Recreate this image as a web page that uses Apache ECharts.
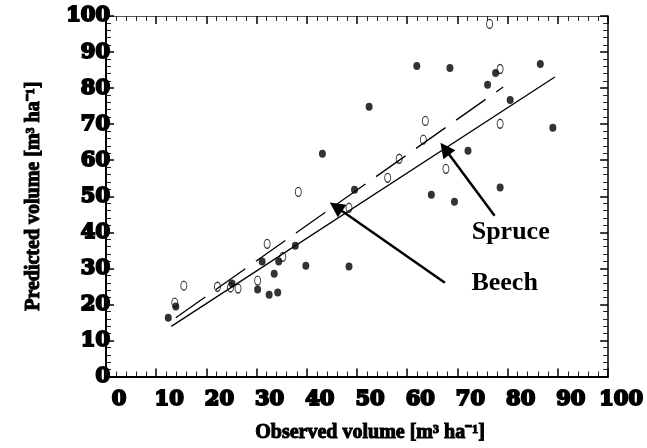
<!DOCTYPE html>
<html>
<head>
<meta charset="utf-8">
<script src="https://cdn.jsdelivr.net/npm/echarts@6/dist/echarts.min.js"></script>
<style>
  html, body { margin: 0; padding: 0; background: #fff; }
  #chart { width: 647px; height: 448px; }
</style>
</head>
<body>
<div id="chart"></div>
<script>
// Spruce plots (filled dots) and their regression line (solid)
const spruceX = [12.4, 13.9, 25.1, 30.2, 32.5, 34.2, 33.5, 31.1, 34.4, 39.8, 48.4, 37.7, 43.1, 49.5, 52.4, 61.9, 68.5, 77.6, 76.0, 80.5, 86.5, 89.0, 72.1, 64.8, 69.4, 78.5];
const spruceY = [16.3, 19.4, 25.8, 24.1, 22.7, 23.3, 28.5, 31.9, 31.9, 30.7, 30.5, 36.3, 61.8, 51.8, 74.8, 86.1, 85.6, 84.2, 80.9, 76.7, 86.7, 69.0, 62.6, 50.4, 48.5, 52.4];
const spruceFitX = [13.0, 89.4];
const spruceFitY = [13.9, 83.1];

// Beech plots (open circles) and their regression line (dashed)
const beechX = [13.7, 15.5, 22.2, 24.8, 26.3, 30.2, 35.2, 32.1, 38.3, 48.4, 56.1, 58.4, 63.2, 63.6, 67.7, 78.5, 78.5, 76.4];
const beechY = [20.5, 25.2, 24.9, 24.7, 24.4, 26.6, 33.2, 36.8, 51.2, 46.8, 55.1, 60.4, 65.7, 70.9, 57.6, 70.1, 85.3, 97.8];
const beechFitX = [13.9, 79.1];
const beechFitY = [16.3, 80.3];

// Annotation arrows: [tail, tip] in data units, and their captions
const spruceArrow = [[77.4, 44.6], [67.5, 63.2]];
const beechArrow = [[67.5, 26.0], [45.8, 47.1]];
const spruceCaption = { text: 'Spruce', at: [80.6, 39.9] };
const beechCaption = { text: 'Beech', at: [79.4, 25.8] };

// Axis range and tick step
const axisMin = 0;
const axisMax = 100;
const axisStep = 10;

const zip = (xs, ys) => xs.map((x, i) => [x, ys[i]]);

const tickFont = {
  fontFamily: 'DejaVu Serif',
  fontWeight: 'bold',
  fontSize: 21,
  color: '#000',
  textBorderColor: '#000',
  textBorderWidth: 2
};
const titleFont = {
  fontFamily: 'Liberation Serif',
  fontWeight: 'bold',
  fontSize: 20,
  color: '#000',
  textBorderColor: '#000',
  textBorderWidth: 1
};

function axisBase(showLabels, lineWidth, lineColor) {
  return {
    type: 'value',
    min: axisMin,
    max: axisMax,
    interval: axisStep,
    axisLine: { show: true, onZero: false, lineStyle: { color: lineColor, width: lineWidth } },
    axisTick: { show: true, inside: true, length: 8, lineStyle: { color: '#000', width: 1.5 } },
    minorTick: { show: true, splitNumber: 5, length: 5, lineStyle: { color: '#222', width: 1 } },
    splitLine: { show: false },
    minorSplitLine: { show: false },
    axisLabel: { show: showLabels }
  };
}

const xBottom = Object.assign(axisBase(true, 2, '#000'), {
  position: 'bottom',
  name: 'Observed volume [m³ ha⁻¹]',
  nameLocation: 'middle',
  nameGap: 46,
  nameTextStyle: Object.assign({ padding: [0, 0, 0, 26] }, titleFont),
  axisLabel: Object.assign({ show: true, margin: 13, padding: [0, 0, 0, 26] }, tickFont)
});
const xTop = Object.assign(axisBase(false, 1, '#555'), { position: 'top' });
const yLeft = Object.assign(axisBase(true, 2, '#000'), {
  position: 'left',
  name: 'Predicted volume [m³ ha⁻¹]',
  nameLocation: 'middle',
  nameGap: 62,
  nameRotate: 90,
  nameTextStyle: titleFont,
  axisLabel: Object.assign({ show: true, margin: -4 }, tickFont)
});
const yRight = Object.assign(axisBase(false, 1.5, '#000'), { position: 'right' });

const arrowLine = (pair) => [
  { coord: pair[0], symbol: 'none' },
  { coord: pair[1], symbol: 'triangle', symbolSize: 15 }
];

const option = {
  animation: false,
  backgroundColor: '#fff',
  grid: { left: 106, right: 24, top: 16, bottom: 71 },
  xAxis: [xBottom, xTop],
  yAxis: [yLeft, yRight],
  series: [
    {
      name: 'Spruce fit',
      type: 'line',
      data: zip(spruceFitX, spruceFitY),
      symbol: 'none',
      lineStyle: { color: '#000', width: 1.3 },
      markLine: {
        silent: true,
        symbol: ['none', 'triangle'],
        symbolSize: 15,
        label: { show: false },
        lineStyle: { color: '#000', width: 2.5, type: 'solid' },
        data: [arrowLine(spruceArrow), arrowLine(beechArrow)]
      },
      markPoint: {
        silent: true,
        symbol: 'circle',
        symbolSize: 0,
        label: {
          show: true,
          position: 'inside',
          formatter: '{b}',
          fontFamily: 'Liberation Serif',
          fontWeight: 'bold',
          fontSize: 26,
          color: '#000'
        },
        data: [
          { name: spruceCaption.text, coord: spruceCaption.at },
          { name: beechCaption.text, coord: beechCaption.at }
        ]
      }
    },
    {
      name: 'Beech fit',
      type: 'line',
      data: zip(beechFitX, beechFitY),
      symbol: 'none',
      lineStyle: { color: '#000', width: 1.3, type: [36, 13] }
    },
    {
      name: 'Spruce',
      type: 'scatter',
      data: zip(spruceX, spruceY),
      symbol: 'circle',
      symbolSize: [7, 8],
      itemStyle: { color: '#000' }
    },
    {
      name: 'Beech',
      type: 'scatter',
      data: zip(beechX, beechY),
      symbol: 'circle',
      symbolSize: [6, 9],
      itemStyle: { color: 'rgba(255,255,255,0)', borderColor: '#000', borderWidth: 1.1 }
    }
  ]
};

const chart = echarts.init(document.getElementById('chart'), null, { renderer: 'canvas' });
chart.setOption(option);
</script>
</body>
</html>
